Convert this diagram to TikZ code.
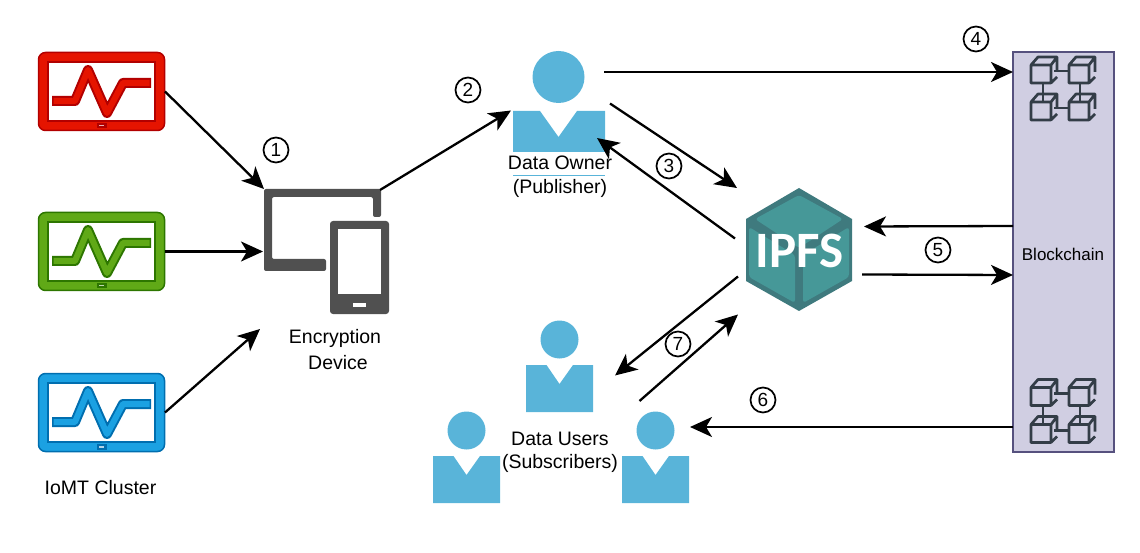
\documentclass[tikz,border=0pt]{standalone}
\usepackage{fontspec}
\setmainfont{Liberation Sans}
\newfontfamily\logofont{Carlito}
\usetikzlibrary{arrows.meta}
\definecolor{userblue}{HTML}{59B4D9}
\definecolor{devgray}{HTML}{505050}
\definecolor{ipfsdark}{HTML}{3F7A7E}
\definecolor{ipfslight}{HTML}{469898}
\definecolor{chainfill}{HTML}{D0CEE2}
\definecolor{chainedge}{HTML}{56517E}
\definecolor{cubeedge}{HTML}{333D47}
\definecolor{redfill}{HTML}{E51400}
\definecolor{rededge}{HTML}{B20000}
\definecolor{greenfill}{HTML}{60A917}
\definecolor{greenedge}{HTML}{2D7600}
\definecolor{bluefill}{HTML}{1BA1E2}
\definecolor{blueedge}{HTML}{006EAF}
\tikzset{
  iconbox/.style 2 args={minimum width=#1, minimum height=#2, inner sep=0, outer sep=0},
  flow/.style={line width=2.3pt, -{Stealth[length=22pt,width=20pt,inset=6pt]}},
  lbl/.style={font=\fontsize{19.5}{23}\selectfont, inner sep=0, align=center},
  stepnum/.style={draw, circle, line width=1.7pt, minimum size=25pt, inner sep=0, font=\fontsize{19}{20}\selectfont},
  pics/monitor/.style 2 args={code={
    \draw[fill=#1, draw=#2, line width=1.5pt, rounded corners=7pt] (-63,-39) rectangle (63,39);
    \draw[fill=white, draw=#2, line width=1.2pt] (-53.5,-29.5) rectangle (53.5,29.5);
    \draw[#2, line width=10pt, line join=round] (-49.5,9.5) -- (-26.5,9.5) -- (-13.5,-21.5) -- (5.5,21.5) -- (21.5,-8.5) -- (49.5,-8.5);
    \draw[#1, line width=6pt, line join=round] (-48,9.5) -- (-26.5,9.5) -- (-13.5,-21.5) -- (5.5,21.5) -- (21.5,-8.5) -- (48,-8.5);
    \fill[#2] (-5,31.5) rectangle (5,37);
    \fill[white, opacity=0.7] (-2.5,33.5) rectangle (2.5,35);
  }},
  pics/person/.style={code={
    \fill[userblue] (0,-27) circle (19);
    \fill[userblue] (-33.5,-1.5) -- (-13,-1.5) -- (0,17.5) -- (13.5,-1.5) -- (33.5,-1.5) -- (33.5,45.5) -- (-33.5,45.5) -- cycle;
  }},
  pics/cubes/.style={code={
    \foreach \cx/\cy in {0/0,38/0,0/37,38/37} {
      \draw[cubeedge, line width=2.7pt, line join=round, shift={(\cx,\cy)}] (0,8) rectangle (20,26) (0,8) -- (7,0) -- (26,0) -- (26,15) (20,8) -- (26,0) (20,26) -- (26,20);
    }
    \draw[cubeedge, line width=2.7pt] (23,14) -- (38,14) (23,51) -- (38,51) (12,26) -- (12,45) (49,26) -- (49,45);
  }}
}
\begin{document}
\begin{tikzpicture}[x=1pt,y=-1pt]
\useasboundingbox (0,0) rectangle (1140,553);
\node[iconbox={127}{79}] (mona) at (101.5,91.5) {};
\node[iconbox={127}{79}] (monb) at (101.5,251.5) {};
\node[iconbox={127}{79}] (monc) at (101.5,412.5) {};
\pic at (mona) {monitor={redfill}{rededge}};
\pic at (monb) {monitor={greenfill}{greenedge}};
\pic at (monc) {monitor={bluefill}{blueedge}};
\node[lbl] (cluster) at (100.5,488) {IoMT Cluster};
\node[iconbox={125}{125}] (dev) at (326.5,251.5) {};
\fill[devgray, rounded corners=2pt] (264,189) -- (381,189) -- (381,217) -- (373,217) -- (373,197) -- (272,197) -- (272,259) -- (326,259) -- (326,271) -- (264,271) -- cycle;
\fill[devgray, rounded corners=3pt] (330,221) rectangle (389,314);
\fill[white] (338,229) rectangle (381,294);
\fill[white] (353,303) rectangle (366,307);
\node[lbl] (devlbl) at (335,338) {Encryption};
\node[lbl] (devlblb) at (338,363) {Device};
\node[iconbox={92}{101}] (owner) at (559,101.5) {};
\fill[userblue] (558.5,77) circle (26);
\fill[userblue] (513,111) -- (540,111) -- (558.5,137) -- (577,111) -- (605,111) -- (605,152) -- (513,152) -- cycle;
\draw[userblue, line width=0.8pt] (513,175) -- (605,175);
\node[lbl] (ownerlbl) at (560,163) {Data Owner};
\node[lbl] (ownerlblb) at (560,188) {(Publisher)};
\node[iconbox={106}{123}] (ipfs) at (799,249.5) {};
\fill[ipfsdark] (799,188) -- (852,219) -- (852,281) -- (799,311) -- (746,281) -- (746,219) -- cycle;
\fill[ipfslight, rounded corners=3pt] (799,195) -- (843,219) -- (799,248) -- (755,219) -- cycle;
\fill[ipfslight, rounded corners=3pt] (749,227) -- (795,255) -- (795,303) -- (749,277) -- cycle;
\fill[ipfslight, rounded corners=3pt] (849,227) -- (803,255) -- (803,303) -- (849,277) -- cycle;
\node[text=white, inner sep=0, font=\logofont\bfseries\fontsize{51}{51}\selectfont] (ipfslbl) at (799.5,251) {IPFS};
\node[iconbox={67}{91}] (usera) at (559.5,366.5) {};
\node[iconbox={67}{91}] (userb) at (466.5,457.5) {};
\node[iconbox={67}{91}] (userc) at (655.5,457.5) {};
\pic at (usera) {person};
\pic at (userb) {person};
\pic at (userc) {person};
\node[lbl] (userlbl) at (560,439) {Data Users};
\node[lbl] (userlblb) at (560,463) {(Subscribers)};
\node[iconbox={101}{400}, draw=chainedge, fill=chainfill, line width=1.5pt] (chain) at (1063.5,252) {};
\node[inner sep=0, font=\fontsize{17}{20}\selectfont] (chainlbl) at (1063,254) {Blockchain};
\pic at (1031,57) {cubes};
\pic at (1031,379.5) {cubes};
\draw[flow] (mona.east) -- (dev.north west);
\draw[flow] (monb.east) -- ([xshift=-1pt]dev.west);
\draw[flow] (monc.east) -- ([shift={(-4,15)}]dev.south west);
\draw[flow] ([shift={(-9,1)}]dev.north east) -- ([shift={(-2,9)}]owner.west);
\draw[flow] ([shift={(-1,21)}]owner.north east) -- ([shift={(0,20)}]chain.north west);
\draw[flow] ([shift={(5,2)}]owner.east) -- ([shift={(-9,0)}]ipfs.north west);
\draw[flow] ([shift={(-11,-11)}]ipfs.west) -- ([shift={(-8,-14)}]owner.south east);
\draw[flow] ([yshift=26pt]chain.west) -- ([shift={(12,-23)}]ipfs.east);
\draw[flow] ([shift={(10,25)}]ipfs.east) -- ([yshift=-23pt]chain.west);
\draw[flow] ([shift={(-8,27)}]ipfs.west) -- ([shift={(22,9)}]usera.east);
\draw[flow] ([shift={(-16,-11)}]userc.north) -- ([shift={(-8,65)}]ipfs.west);
\draw[flow] ([yshift=-175pt]chain.west) -- ([shift={(1,-30.5)}]userc.east);
\node[stepnum] (numa) at (276,150) {1};
\node[stepnum] (numb) at (468,90) {2};
\node[stepnum] (numc) at (669,166) {3};
\node[stepnum] (numd) at (976,39) {4};
\node[stepnum] (nume) at (938,250) {5};
\node[stepnum] (numf) at (763,400) {6};
\node[stepnum] (numg) at (678,344) {7};
\end{tikzpicture}
\end{document}
